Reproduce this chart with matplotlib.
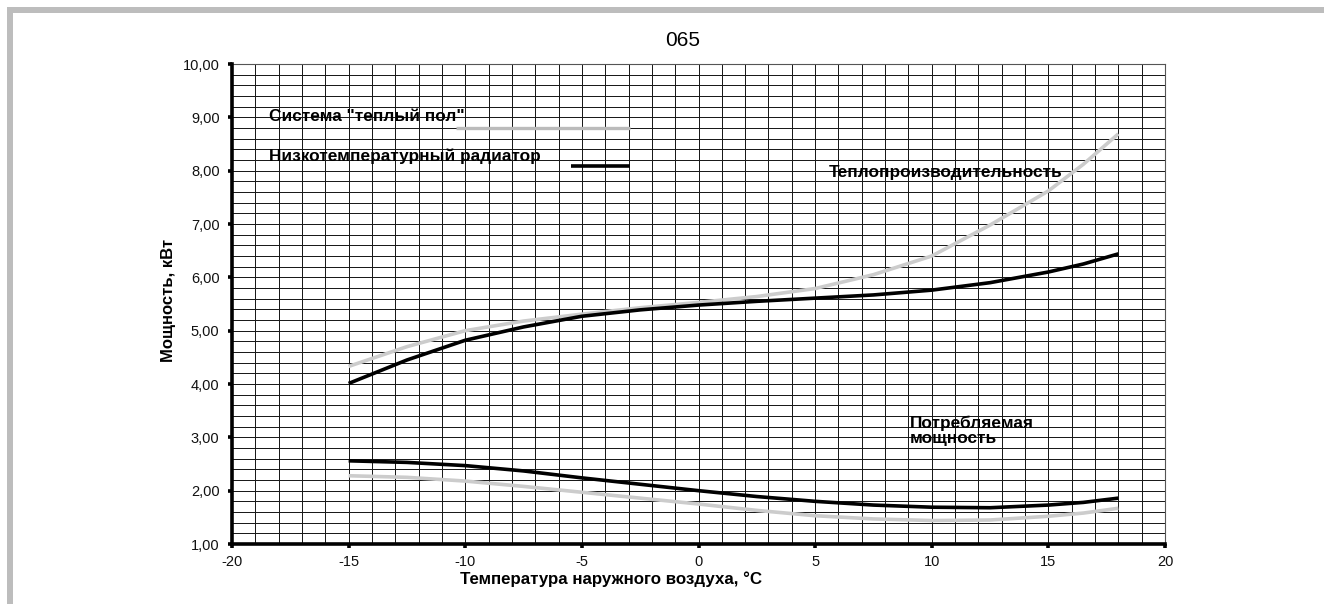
import matplotlib
matplotlib.use("Agg")
import matplotlib.pyplot as plt
from matplotlib.patches import Rectangle
import numpy as np

plt.rcParams['font.family'] = ['Liberation Sans', 'DejaVu Sans']

# Outdoor temperature, °C
temperature = [-15, -12.5, -10, -7.5, -5, -2.5, 0, 2.5, 5, 7.5, 10, 12.5, 15, 16.5, 18]

# Heating capacity, kW
heat_floor = [4.33, 4.70, 5.00, 5.18, 5.31, 5.43, 5.53, 5.64, 5.79, 6.05, 6.40, 6.98, 7.62, 8.12, 8.69]
heat_radiator = [4.01, 4.45, 4.82, 5.07, 5.27, 5.39, 5.48, 5.55, 5.61, 5.67, 5.76, 5.90, 6.10, 6.25, 6.44]

# Power input, kW
power_radiator = [2.56, 2.53, 2.47, 2.37, 2.24, 2.12, 2.00, 1.89, 1.80, 1.73, 1.69, 1.68, 1.73, 1.78, 1.86]
power_floor = [2.28, 2.25, 2.18, 2.08, 1.97, 1.86, 1.75, 1.63, 1.53, 1.47, 1.44, 1.45, 1.52, 1.58, 1.67]

x_ticks = [-20, -15, -10, -5, 0, 5, 10, 15, 20]
y_ticks = [1, 2, 3, 4, 5, 6, 7, 8, 9, 10]

W, H = 1324, 604
fig = plt.figure(figsize=(W / 100, H / 100), dpi=100)
ax = fig.add_axes([232 / W, 1 - 544 / H, (1165 - 232) / W, (544 - 64) / H])

ax.set_xlim(-20, 20)
ax.set_ylim(1, 10)

# fine grid: 1 °C by 0.2 kW
for gx in np.arange(-19, 21, 1):
    ax.axvline(gx, color='#1a1a1a', lw=0.72, zorder=1)
for gy in np.arange(1.2, 10.01, 0.2):
    ax.axhline(gy, color='#1a1a1a', lw=0.72, zorder=1)

floor_col = '#cccccc'
rad_col = '#000000'
lw = 2.6
ax.plot(temperature, heat_floor, color=floor_col, lw=lw, zorder=3, solid_capstyle='butt')
ax.plot(temperature, heat_radiator, color=rad_col, lw=lw, zorder=4, solid_capstyle='butt')
ax.plot(temperature, power_floor, color=floor_col, lw=lw, zorder=3, solid_capstyle='butt')
ax.plot(temperature, power_radiator, color=rad_col, lw=lw, zorder=4, solid_capstyle='butt')

# in-plot legend
bold = dict(fontsize=12.4, fontweight='bold', color='black', zorder=5)
ax.text(-18.4, 9.02, 'Система "теплый пол"', va='center', ha='left', **bold)
ax.plot([-10.4, -2.95], [8.80, 8.80], color='#bbbbbb', lw=2.4, zorder=5, solid_capstyle='butt')
ax.text(-18.4, 8.27, 'Низкотемпературный радиатор', va='center', ha='left', **bold)
ax.plot([-5.45, -2.93], [8.08, 8.08], color='black', lw=2.6, zorder=5, solid_capstyle='butt')

ax.text(5.6, 7.97, 'Теплопроизводительность', va='center', ha='left', **bold)
ax.text(9.05, 3.12, 'Потребляемая\nмощность', va='center', ha='left', linespacing=1.05, **bold)

# axes frame
for side in ('top', 'right'):
    ax.spines[side].set_color('#555555')
    ax.spines[side].set_linewidth(0.8)
for side in ('left', 'bottom'):
    ax.spines[side].set_color('black')
    ax.spines[side].set_linewidth(2.6)
    ax.spines[side].set_zorder(6)

ax.set_xticks(x_ticks)
ax.set_xticklabels([str(v) for v in x_ticks])
ax.set_yticks(y_ticks)
ax.set_yticklabels([f"{v:.2f}".replace('.', ',') for v in y_ticks])
ax.tick_params(axis='both', direction='out', length=3, width=2.6, color='black',
               labelsize=10.5, labelcolor='#111111')
ax.tick_params(axis='y', pad=6)
ax.tick_params(axis='x', pad=5)

fig.text(683 / W, 1 - 41 / H, '065', ha='center', va='center', fontsize=15)
fig.text(611 / W, 1 - 579 / H, 'Температура наружного воздуха, °C', ha='center', va='center',
         fontsize=12.2, fontweight='bold')
fig.text(168 / W, 1 - 300 / H, 'Мощность, кВт', ha='center', va='center', rotation=90,
         fontsize=12, fontweight='bold')

# grey page frame
frame_col = '#bdbdbd'
fig.add_artist(Rectangle((7 / W, 1 - 13 / H), 1 - 7 / W, 6 / H, transform=fig.transFigure,
                         facecolor=frame_col, edgecolor='none'))
fig.add_artist(Rectangle((7 / W, 0), 6 / W, 1 - 7 / H, transform=fig.transFigure,
                         facecolor=frame_col, edgecolor='none'))

fig.savefig('out.png', dpi=100, facecolor='white')
